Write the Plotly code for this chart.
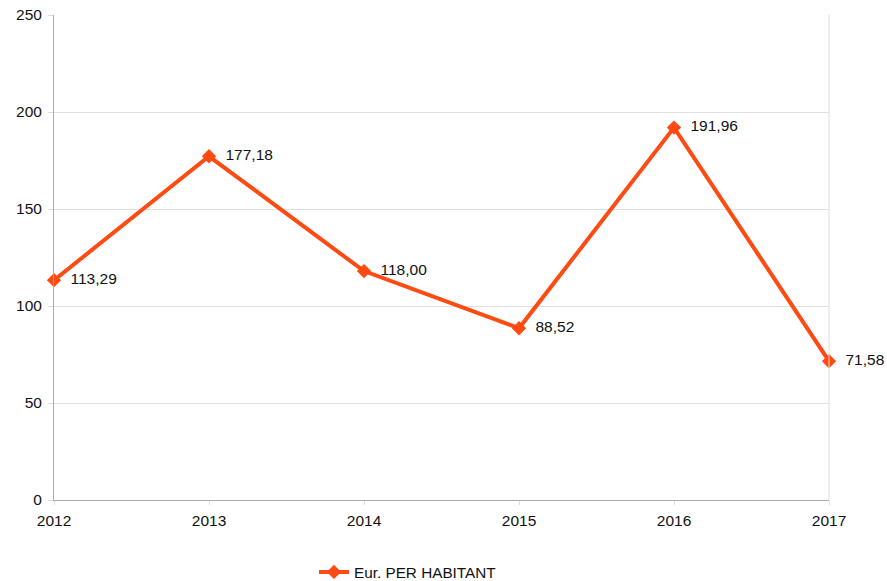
import plotly.graph_objects as go

years = [2012, 2013, 2014, 2015, 2016, 2017]
eur_per_habitant = [113.29, 177.18, 118.00, 88.52, 191.96, 71.58]
labels = [f"{v:.2f}".replace(".", ",") for v in eur_per_habitant]

ORANGE = "#ff4a12"

fig = go.Figure()
fig.add_trace(go.Scatter(
    x=years, y=eur_per_habitant,
    mode="lines+markers+text",
    name="Eur. PER HABITANT",
    line=dict(color=ORANGE, width=4),
    marker=dict(symbol="diamond", size=11, color=ORANGE),
    text=["  " + t for t in labels],
    textposition="middle right",
    textfont=dict(size=15.5, color="#111111"),
    cliponaxis=False,
))

# thin right border of the plot frame
fig.add_shape(type="line", xref="paper", yref="paper", x0=1, x1=1, y0=0, y1=1,
              line=dict(color="#dddddd", width=1))

fig.update_layout(
    width=887, height=581,
    margin=dict(l=54, r=58, t=15, b=81),
    paper_bgcolor="white", plot_bgcolor="white",
    font=dict(family="Liberation Sans, Arial, sans-serif", size=15.5, color="#111111"),
    showlegend=True,
    legend=dict(orientation="h", xref="container", yref="container",
                x=0.354, y=0.0155, xanchor="left", yanchor="middle",
                font=dict(size=15.3), itemwidth=30),
    xaxis=dict(
        range=[2012, 2017], tickvals=years, ticktext=[str(y) for y in years],
        showgrid=False, zeroline=False, automargin=False,
        showline=True, linecolor="#aaaaaa", linewidth=1,
        ticks="outside", ticklen=4, tickcolor="#dddddd",
        ticklabelstandoff=2,
    ),
    yaxis=dict(
        range=[0, 250], dtick=50,
        showgrid=True, gridcolor="#e0e0e0", gridwidth=1, zeroline=False,
        automargin=False,
        showline=True, linecolor="#aaaaaa", linewidth=1,
        ticks="outside", ticklen=5, tickcolor="#dddddd",
        ticklabelstandoff=3,
    ),
)

fig.write_html("out.html", config={"displayModeBar": False},
               post_script="document.body.style.margin='0';")
